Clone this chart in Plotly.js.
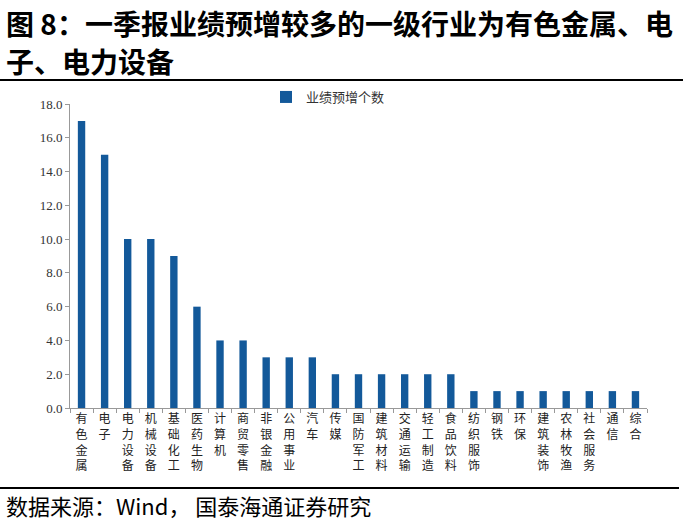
<!DOCTYPE html>
<html><head><meta charset="utf-8">
<script src="https://cdn.plot.ly/plotly-3.0.1.min.js"></script>
<style>body{margin:0;background:#fff}#c{width:700px;height:530px}</style>
</head><body><div id="c"></div>
<script>
const categories = ["有色金属","电子","电力设备","机械设备","基础化工","医药生物","计算机","商贸零售","非银金融","公用事业","汽车","传媒","国防军工","建筑材料","交通运输","轻工制造","食品饮料","纺织服饰","钢铁","环保","建筑装饰","农林牧渔","社会服务","通信","综合"];
const values = [17,15,10,10,9,6,4,4,3,3,3,2,2,2,2,2,2,1,1,1,1,1,1,1,1];
const seriesName = "业绩预增个数";
const yTicks = [0,2,4,6,8,10,12,14,16,18];
const titleLine1 = "图 8：一季报业绩预增较多的一级行业为有色金属、电";
const titleLine2 = "子、电力设备";
const sourceText = "数据来源：Wind， 国泰海通证券研究";

const L=70, R=647, T=104, B=408;
const W=R-L, H=B-T;
const px = p => (p-L)/W;
const py = p => (B-p)/H;
const cjk = '"Noto Sans CJK SC", sans-serif';

const trace = {
  type:'bar', x:categories, y:values, name:seriesName,
  marker:{color:'#13599A'}, showlegend:true
};
const layout = {
  width:700, height:530,
  margin:{l:L, r:700-R, t:T, b:530-B},
  paper_bgcolor:'#fff', plot_bgcolor:'#fff',
  bargap:0.68,
  showlegend:true,
  legend:{orientation:'h', x:px(266), xanchor:'left', y:py(97), yanchor:'middle',
    font:{family:cjk, size:13, color:'#333'}, itemwidth:30, bgcolor:'rgba(0,0,0,0)'},
  xaxis:{
    tickmode:'array', tickvals:categories,
    ticktext:categories.map(c=>c.split('').join('<br>')),
    tickangle:0, tickfont:{family:cjk, size:12, color:'#222'},
    showline:true, linecolor:'#999', linewidth:1,
    ticks:'outside', ticklen:4, tickcolor:'#999', tickson:'boundaries',
    showgrid:false, fixedrange:true
  },
  yaxis:{
    range:[0,18], tickmode:'array', tickvals:yTicks,
    ticktext:yTicks.map(v=>v.toFixed(1)),
    tickfont:{family:'"Liberation Serif", serif', size:13, color:'#333'},
    showline:true, linecolor:'#999', linewidth:1,
    ticks:'outside', ticklen:4, tickcolor:'#999',
    showgrid:false, zeroline:false, fixedrange:true
  },
  shapes:[
    {type:'line', xref:'paper', yref:'paper', x0:px(0), x1:px(683), y0:py(80), y1:py(80), line:{color:'#000', width:2}},
    {type:'line', xref:'paper', yref:'paper', x0:px(0), x1:px(679), y0:py(488), y1:py(488), line:{color:'#000', width:2}}
  ],
  annotations:[
    {xref:'paper', yref:'paper', x:px(4), y:py(23), xanchor:'left', yanchor:'middle', showarrow:false,
     text:'<b>'+titleLine1+'</b>', font:{family:cjk, size:28, color:'#000'}},
    {xref:'paper', yref:'paper', x:px(4), y:py(61), xanchor:'left', yanchor:'middle', showarrow:false,
     text:'<b>'+titleLine2+'</b>', font:{family:cjk, size:28, color:'#000'}},
    {xref:'paper', yref:'paper', x:px(4), y:py(505), xanchor:'left', yanchor:'middle', showarrow:false,
     text:sourceText, font:{family:cjk, size:22, color:'#000'}}
  ]
};
Plotly.newPlot('c',[trace],layout,{displayModeBar:false, staticPlot:true});
</script></body></html>
